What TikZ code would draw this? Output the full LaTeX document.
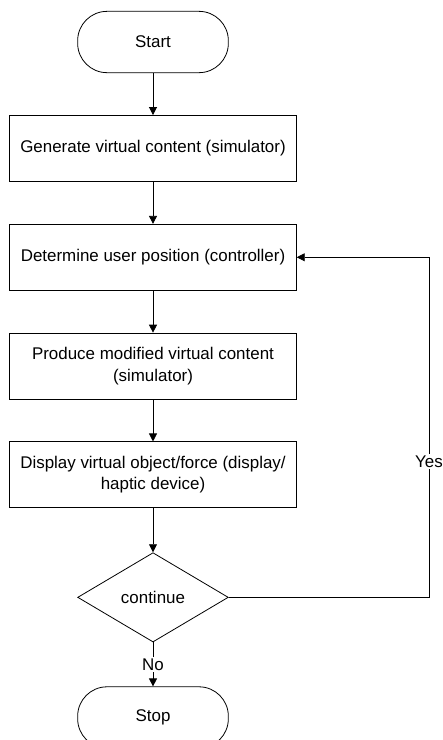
\documentclass[tikz,border=0pt]{standalone}
\usepackage{fontspec}
\setmainfont{Liberation Sans}
\usetikzlibrary{arrows.meta,positioning,shapes.geometric}
\tikzset{
  termnode/.style={
    draw,
    rounded corners=22pt,
    minimum width=113pt,
    minimum height=46pt,
    line width=0.6pt
  },
  procbox/.style={
    draw,
    align=center,
    minimum width=215pt,
    minimum height=49.5pt,
    line width=0.6pt
  },
  decnode/.style={
    draw,
    diamond,
    aspect=1.7,
    minimum width=113pt,
    minimum height=67pt,
    inner sep=0pt,
    line width=0.6pt
  },
  flowarrow/.style={
    -{Triangle[length=6pt,width=6pt]},
    line width=0.6pt
  }
}

\begin{document}
\begin{tikzpicture}[x=0.75pt, y=-0.75pt, node distance=31.5pt, font=\fontsize{12.7}{16}\selectfont]
    \clip (0,0) rectangle (443,740);

    \node[termnode] (start) at (153,42) {Start};
    \node[procbox, below=of start] (generate) {Generate virtual content (simulator)};
    \node[procbox, below=of generate] (determine) {Determine user position (controller)};
    \node[procbox, below=of determine] (produce) {Produce modified virtual content\\(simulator)};
    \node[procbox, below=of produce] (display) {Display virtual object/force (display/\\haptic device)};
    \node[decnode, below=33pt of display] (check) {continue};
    \node[termnode, below=33pt of check] (stop) {Stop};

    \draw[flowarrow] (start) -- (generate);
    \draw[flowarrow] (generate) -- (determine);
    \draw[flowarrow] (determine) -- (produce);
    \draw[flowarrow] (produce) -- (display);
    \draw[flowarrow] (display) -- (check);
    \draw[flowarrow] (check) -- node[fill=white, inner sep=1pt] {No} (stop);

    % loop back
    \coordinate (loopx) at (429,0);
    \draw[flowarrow] (check.east) -- (check.east -| loopx)
        |- node[pos=0.2, fill=white, inner sep=1pt] {Yes} (determine.east);
\end{tikzpicture}
\end{document}
